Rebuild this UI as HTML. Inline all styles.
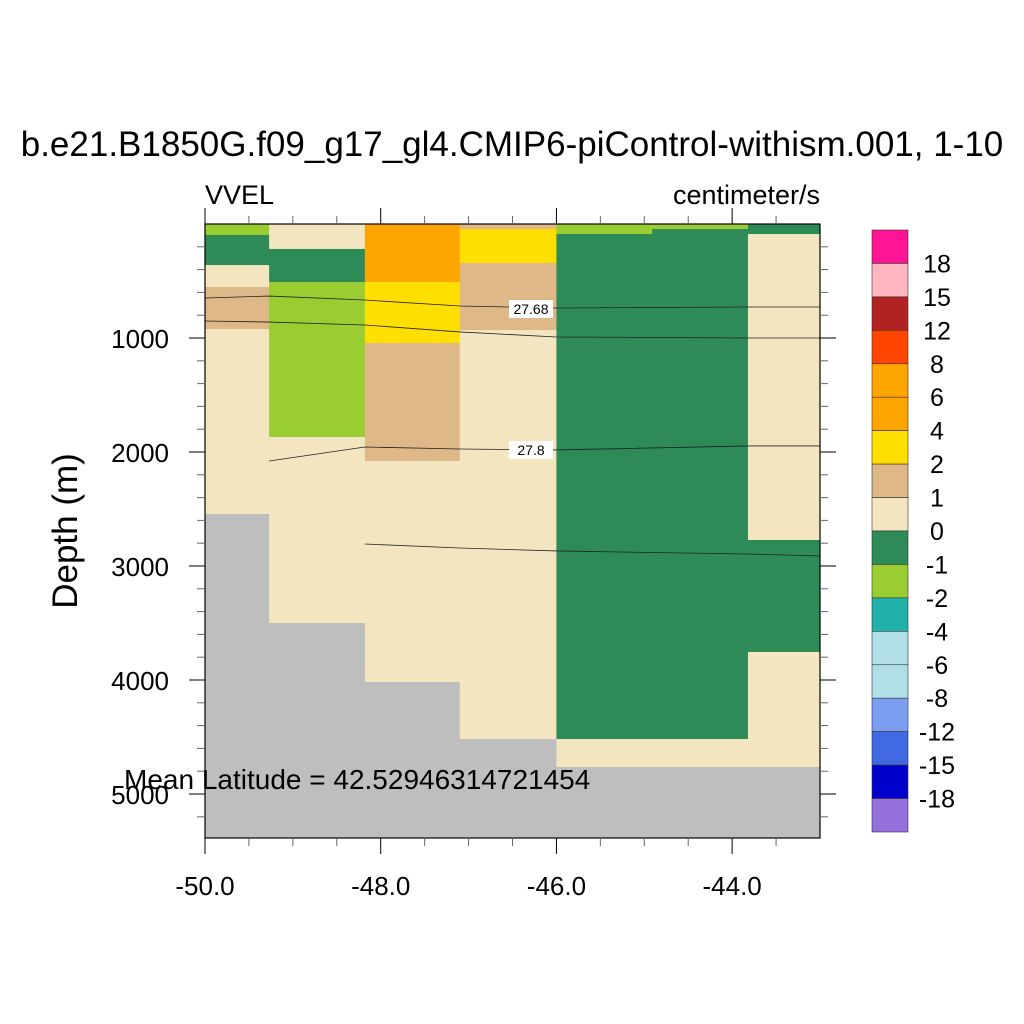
<!DOCTYPE html>
<html><head><meta charset="utf-8"><style>
body{margin:0;background:#fff;}
svg{display:block;font-family:"Liberation Sans",sans-serif;}
</style></head><body>
<svg id="chart" width="1024" height="1024" viewBox="0 0 1024 1024">
<rect width="1024" height="1024" fill="#fff"/>
<text x="512" y="156" font-size="35" text-anchor="middle">b.e21.B1850G.f09_g17_gl4.CMIP6-piControl-withism.001, 1-10</text>
<text x="205" y="204" font-size="27">VVEL</text>
<text x="820" y="204" font-size="27" text-anchor="end">centimeter/s</text>
<text transform="translate(77,531) rotate(-90)" font-size="35" text-anchor="middle">Depth (m)</text>
<g id="cells"></g><g id="lines"></g><g id="axes"></g><g id="cbar"></g>
<text x="124" y="789" font-size="28">Mean Latitude = 42.52946314721454</text>
</svg>
<script>
// column edges (longitude)
const lonEdges=[-50,-49.27,-48.18,-47.1,-46,-44.91,-43.82,-43];
// per column layers: [topDepth, bottomDepth, colorClass]
const columns=[
 [[0,96,"yg"],[96,360,"sg"],[360,553,"wh"],[553,921,"tan"],[921,2544,"wh"],[2544,5386,"land"]],
 [[0,219,"wh"],[219,509,"sg"],[509,1868,"yg"],[1868,3500,"wh"],[3500,5386,"land"]],
 [[0,509,"or"],[509,1044,"gold"],[1044,2079,"tan"],[2079,4018,"wh"],[4018,5386,"land"]],
 [[0,44,"tan"],[44,342,"gold"],[342,930,"tan"],[930,4518,"wh"],[4518,5386,"land"]],
 [[0,88,"yg"],[88,4518,"sg"],[4518,4763,"wh"],[4763,5386,"land"]],
 [[0,44,"yg"],[44,4518,"sg"],[4518,4763,"wh"],[4763,5386,"land"]],
 [[0,88,"sg"],[88,2772,"wh"],[2772,3754,"sg"],[3754,4763,"wh"],[4763,5386,"land"]]
];
const colorMap={yg:"#9ACD32",sg:"#2E8B57",wh:"#F3E5BF",tan:"#DEB887",or:"#FFA500",gold:"#FFDF00",land:"#BEBEBE"};
// density contours: lon points and depths
const contourLons=[-50,-49.27,-48.18,-47.1,-46,-43.82,-43];
const contour1=[649,632,667,719,737,728,728];
const contour2=[851,860,886,947,991,1000,1000];
const contour3=[null,2079,1956,1974,1982,1947,1947];
const contour4=[null,null,2807,2842,2868,2895,2912];
const cbColors=["#FF1493","#FFB6C1","#B22222","#FF4500","#FFA500","#FFA500","#FFDF00","#DEB887","#F3E5BF","#2E8B57","#9ACD32","#20B2AA","#B0E0E6","#B0E0E6","#7B9EF0","#4169E1","#0000CD","#9370DB"];
const cbLabels=["18","15","12","8","6","4","2","1","0","-1","-2","-4","-6","-8","-12","-15","-18"];
const xTicks=[-50,-48,-46,-44];
const yTicks=[1000,2000,3000,4000,5000];

const NS="http://www.w3.org/2000/svg";
const X0=205,X1=820,Y0=224,Y1=838,LON0=-50,LON1=-43,D0=0,D1=5386;
const sx=v=>X0+(v-LON0)/(LON1-LON0)*(X1-X0);
const sy=d=>Y0+(d-D0)/(D1-D0)*(Y1-Y0);
function mk(tag,attrs,parent){const e=document.createElementNS(NS,tag);for(const k in attrs)e.setAttribute(k,attrs[k]);parent.appendChild(e);return e;}
const cells=document.getElementById('cells');
columns.forEach((col,i)=>{col.forEach((L,j)=>{
 const r=mk('rect',{x:sx(lonEdges[i]),y:sy(L[0]),width:sx(lonEdges[i+1])-sx(lonEdges[i])+0.5,height:sy(L[1])-sy(L[0])+0.5,fill:colorMap[L[2]]},cells);
 
 
});});
const lines=document.getElementById('lines');
[contour1,contour2,contour3,contour4].forEach((c,k)=>{
 const pts=[];c.forEach((d,i)=>{if(d!==null)pts.push(sx(contourLons[i])+','+sy(d));});
 const p=mk('polyline',{points:pts.join(' '),fill:'none',stroke:'#222','stroke-width':0.8},lines);
 
 
});
function lab(t,x,y){const r=mk('rect',{x:x-22,y:y-9,width:44,height:18,fill:'#fff'},lines);
 
 const tx=mk('text',{x:x,y:y+5,'font-size':14,'text-anchor':'middle'},lines);tx.textContent=t;
 
 }
lab('27.68',531,309);lab('27.8',531,450);
const ax=document.getElementById('axes');
const fr=mk('rect',{x:X0,y:Y0,width:X1-X0,height:Y1-Y0,fill:'none',stroke:'#000','stroke-width':1.2},ax);

for(let v=-50;v<=-43.001;v+=0.5){const x=sx(v),maj=Math.abs(v-Math.round(v/2)*2)<1e-6;const l=maj?16:8;
 mk('line',{x1:x,y1:Y1,x2:x,y2:Y1+l,stroke:maj?'#000':'#666'},ax);mk('line',{x1:x,y1:Y0,x2:x,y2:Y0-l,stroke:maj?'#000':'#666'},ax);}
for(let d=200;d<D1;d+=200){const y=sy(d),maj=d%1000===0;const l=maj?16:8;
 mk('line',{x1:X0,y1:y,x2:X0-l,y2:y,stroke:maj?'#000':'#666'},ax);mk('line',{x1:X1,y1:y,x2:X1+l,y2:y,stroke:maj?'#000':'#666'},ax);}
xTicks.forEach(v=>{const t=mk('text',{x:sx(v),y:895,'font-size':26,'text-anchor':'middle'},ax);t.textContent=v.toFixed(1);
 });
yTicks.forEach(d=>{const t=mk('text',{x:169,y:sy(d)+10,'font-size':26,'text-anchor':'end'},ax);t.textContent=d;
 });
const cb=document.getElementById('cbar');
const CB0=230,CB1=832,bh=(CB1-CB0)/cbColors.length;
cbColors.forEach((c,i)=>{const r=mk('rect',{x:872,y:CB0+i*bh,width:36,height:bh,fill:c,stroke:'#333','stroke-width':0.6},cb);
 });
cbLabels.forEach((s,i)=>{const t=mk('text',{x:937,y:CB0+(i+1)*bh+9,'font-size':25,'text-anchor':'middle'},cb);t.textContent=s;
 });
</script>
</body></html>
